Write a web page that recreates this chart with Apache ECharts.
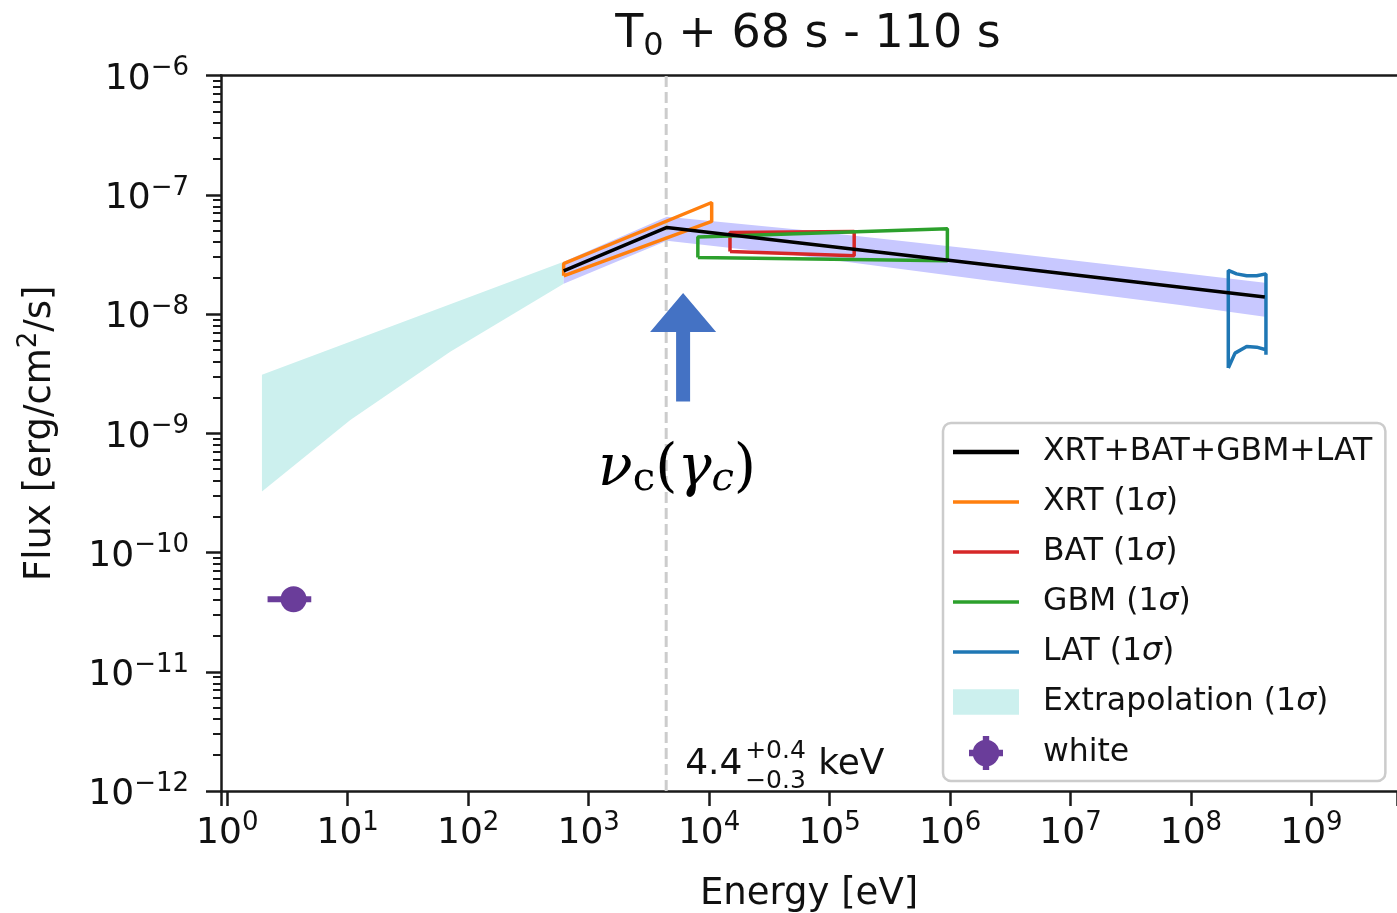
<!DOCTYPE html>
<html>
<head>
<meta charset="utf-8">
<script src="https://cdn.jsdelivr.net/npm/echarts@6/dist/echarts.min.js"></script>
<style>
  html, body { margin: 0; padding: 0; background: #fff; }
  #chart { width: 1397px; height: 913px; }
</style>
</head>
<body>
<div id="chart"></div>
<script>
// axis ranges: energy in eV, flux in erg/cm^2/s
const xMin = 0.887, xMax = 5.13e9;
const yMin = 1e-12, yMax = 1e-6;

// joint XRT+BAT+GBM+LAT fit (broken power law)
const fitE = [620, 4460, 4.1e8];
const fitF = [2.30e-8, 5.32e-8, 1.39e-8];

// 1 sigma band of the joint fit
const fitHiE = [620, 4460, 5.7e4, 2.15e6, 8.1e7, 4.1e8];
const fitHiF = [2.74e-8, 6.53e-8, 5.08e-8, 3.39e-8, 2.22e-8, 1.83e-8];
const fitLoE = [620, 4460, 5.7e4, 2.15e6, 8.1e7, 4.1e8];
const fitLoF = [1.79e-8, 4.11e-8, 3.08e-8, 1.90e-8, 1.19e-8, 9.5e-9];

// extrapolation (1 sigma) down to the optical
const extHiE = [1.94, 620];
const extHiF = [3.09e-9, 2.74e-8];
const extLoE = [1.94, 10.5, 70.9, 620];
const extLoF = [3.24e-10, 1.29e-9, 4.82e-9, 1.79e-8];

// single instrument 1 sigma contours
const xrtE = [620, 620, 1.05e4, 1.05e4, 620];
const xrtF = [2.09e-8, 2.64e-8, 8.61e-8, 5.97e-8, 2.09e-8];
const batE = [1.49e4, 1.49e4, 1.60e5, 1.60e5, 1.49e4];
const batF = [3.34e-8, 4.83e-8, 4.92e-8, 3.08e-8, 3.34e-8];
const gbmE = [8060, 8060, 9.5e5, 9.5e5, 8060];
const gbmF = [2.98e-8, 4.42e-8, 5.19e-8, 2.79e-8, 2.98e-8];
const latE = [2.04e8, 2.04e8, 2.39e8, 2.90e8, 3.51e8, 4.19e8, 4.19e8, 4.19e8, 3.51e8, 2.90e8, 2.32e8, 2.04e8];
const latF = [3.52e-9, 2.32e-8, 2.17e-8, 2.09e-8, 2.09e-8, 2.17e-8, 4.55e-9, 5.01e-9, 5.27e-9, 5.33e-9, 4.70e-9, 3.52e-9];

// UVOT white filter point
const whiteE = 3.55, whiteF = 4.05e-11;
const whiteErrE = [2.16, 4.98];

// cooling break
const breakE = 4400;

// annotation anchors [E, F]
const arrowE = 6080, arrowTopF = 1.50e-8, arrowBottomF = 1.85e-9;
const nuLabelAt = [5420, 4.93e-10];
const breakLabelAt = [6320, 1.65e-12];

const ink = '#111111';
const axisColor = '#1a1a1a';
const font = 'DejaVu Sans';
const lineIcon = 'path://M0,0H66V3.5H0Z';

function pairs(xs, ys) {
  return xs.map(function (x, i) { return [x, ys[i]]; });
}

function powLabel(v) {
  const e = Math.log10(v);
  const n = Math.round(e);
  if (Math.abs(e - n) > 1e-6) return '';
  return '{b|10}{s|' + (n < 0 ? '\u2212' + (-n) : n) + '}';
}

const tickRich = {
  b: { fontSize: 36, lineHeight: 48, fontFamily: font, color: ink },
  s: { fontSize: 26, lineHeight: 26, verticalAlign: 'top', fontFamily: font, color: ink }
};

function bandSeries(name, hiE, hiF, loE, loF, color, z) {
  return {
    name: name,
    type: 'custom',
    z: z,
    silent: true,
    itemStyle: { color: color },
    data: [[hiE[0], hiF[0]]],
    renderItem: function (params, api) {
      const pts = [];
      for (let i = 0; i < hiE.length; i++) pts.push(api.coord([hiE[i], hiF[i]]));
      for (let i = loE.length - 1; i >= 0; i--) pts.push(api.coord([loE[i], loF[i]]));
      return { type: 'polygon', shape: { points: pts }, style: { fill: color } };
    }
  };
}

function contour(name, xs, ys, color, width, z) {
  return {
    name: name,
    type: 'line',
    z: z,
    symbol: 'none',
    silent: true,
    color: color,
    itemStyle: { color: color },
    lineStyle: { color: color, width: width },
    data: pairs(xs, ys)
  };
}

const chart = echarts.init(document.getElementById('chart'));

chart.setOption({
  animation: false,
  backgroundColor: '#ffffff',
  textStyle: { fontFamily: font },
  grid: { left: 221, right: 0, top: 75.5, bottom: 122, outerBoundsMode: 'none' },
  graphic: [{
    type: 'text',
    x: 808,
    y: 7,
    style: {
      text: '{a|T}{sub|0}{a| + 68 s - 110 s}',
      align: 'center',
      verticalAlign: 'top',
      rich: {
        a: { fontSize: 46, lineHeight: 56, fontFamily: font, fill: ink, color: ink },
        sub: { fontSize: 32, lineHeight: 31, verticalAlign: 'bottom', fontFamily: font, fill: ink, color: ink }
      }
    }
  }],
  legend: {
    orient: 'vertical',
    left: 943,
    top: 423,
    padding: [13, 13, 11, 10],
    itemGap: 18,
    itemWidth: 66,
    itemHeight: 34,
    backgroundColor: '#ffffff',
    borderColor: '#cccccc',
    borderWidth: 2.5,
    borderRadius: 8,
    selectedMode: false,
    data: [
      { name: 'XRT+BAT+GBM+LAT', icon: 'path://M0,0H66V4.5H0Z' },
      { name: 'XRT (1σ)', icon: lineIcon },
      { name: 'BAT (1σ)', icon: lineIcon },
      { name: 'GBM (1σ)', icon: lineIcon },
      { name: 'LAT (1σ)', icon: lineIcon },
      { name: 'Extrapolation (1σ)', icon: 'path://M0,0H62V24H0Z' },
      { name: 'white', icon: 'path://M4.5,17A12.5,12.5,0,1,1,29.5,17A12.5,12.5,0,1,1,4.5,17Z M1,14H33V20H1Z M14,1H20V33H14Z' }
    ],
    formatter: function (name) { return name.replace('σ', '{i|σ}'); },
    textStyle: {
      fontSize: 31.5,
      fontFamily: font,
      color: ink,
      padding: [0, 0, 0, 19],
      rich: { i: { fontSize: 31.5, fontStyle: 'italic', fontFamily: font, color: ink } }
    }
  },
  xAxis: [{
    type: 'log',
    logBase: 10,
    min: xMin,
    max: xMax,
    splitNumber: 10,
    axisLine: { show: true, onZero: false, lineStyle: { color: axisColor, width: 2.5 } },
    axisTick: { show: true, length: 15, lineStyle: { color: axisColor, width: 2.5 } },
    splitLine: { show: false },
    axisLabel: { margin: 19, formatter: powLabel, rich: tickRich },
    name: 'Energy [eV]',
    nameLocation: 'middle',
    nameGap: 85,
    nameTextStyle: { fontSize: 37, fontFamily: font, color: ink }
  }, {
    type: 'log',
    logBase: 10,
    min: xMin,
    max: xMax,
    position: 'top',
    axisLine: { show: true, onZero: false, lineStyle: { color: axisColor, width: 2.5 } },
    axisTick: { show: false },
    axisLabel: { show: false },
    splitLine: { show: false }
  }],
  yAxis: {
    type: 'log',
    logBase: 10,
    min: yMin,
    max: yMax,
    splitNumber: 6,
    axisLine: { show: true, onZero: false, lineStyle: { color: axisColor, width: 2.5 } },
    axisTick: { show: true, length: 15, lineStyle: { color: axisColor, width: 2.5 } },
    minorTick: { show: true, splitNumber: 9, length: 8, lineStyle: { color: axisColor, width: 2 } },
    splitLine: { show: false },
    minorSplitLine: { show: false },
    axisLabel: { margin: 32, padding: [8, 0, 0, 0], formatter: powLabel, rich: tickRich },
    name: 'Flux [erg/cm{sup|2}/s]',
    nameLocation: 'middle',
    nameGap: 157,
    nameRotate: 90,
    nameTextStyle: {
      fontSize: 37,
      lineHeight: 48,
      fontFamily: font,
      color: ink,
      rich: { sup: { fontSize: 26, lineHeight: 26, verticalAlign: 'top', fontFamily: font, color: ink } }
    }
  },
  series: [
    bandSeries('Extrapolation (1σ)', extHiE, extHiF, extLoE, extLoF, '#ccf0ee', 1),
    bandSeries('fit band', fitHiE, fitHiF, fitLoE, fitLoF, '#c8c8ff', 1),
    {
      name: 'break',
      type: 'line',
      z: 2,
      symbol: 'none',
      silent: true,
      lineStyle: { color: '#cccccc', width: 3, type: [11, 5] },
      data: [[breakE, yMin], [breakE, yMax]]
    },
    contour('XRT+BAT+GBM+LAT', fitE, fitF, '#000000', 3.5, 4),
    contour('XRT (1σ)', xrtE, xrtF, '#ff7f0e', 3.5, 3),
    contour('BAT (1σ)', batE, batF, '#d62728', 3.5, 3),
    contour('GBM (1σ)', gbmE, gbmF, '#2ca02c', 3.5, 3),
    contour('LAT (1σ)', latE, latF, '#1f77b4', 3.5, 3),
    {
      name: 'white err',
      type: 'line',
      z: 5,
      symbol: 'none',
      silent: true,
      lineStyle: { color: '#6a3d9a', width: 6 },
      data: [[whiteErrE[0], whiteF], [whiteErrE[1], whiteF]]
    },
    {
      name: 'white',
      type: 'scatter',
      z: 6,
      symbol: 'circle',
      symbolSize: 26,
      itemStyle: { color: '#6a3d9a', opacity: 1 },
      data: [[whiteE, whiteF]]
    },
    {
      name: 'annotations',
      type: 'custom',
      z: 10,
      silent: true,
      data: [[arrowE, arrowTopF]],
      renderItem: function (params, api) {
        const top = api.coord([arrowE, arrowTopF]);
        const bot = api.coord([arrowE, arrowBottomF]);
        const hw = 33, hh = 39, sw = 7;
        const nu = api.coord(nuLabelAt);
        const br = api.coord(breakLabelAt);
        const serif = 'DejaVu Serif';
        return {
          type: 'group',
          children: [{
            type: 'polygon',
            shape: {
              points: [
                [top[0], top[1]],
                [top[0] + hw, top[1] + hh],
                [top[0] + sw, top[1] + hh],
                [bot[0] + sw, bot[1]],
                [bot[0] - sw, bot[1]],
                [top[0] - sw, top[1] + hh],
                [top[0] - hw, top[1] + hh]
              ]
            },
            style: { fill: '#4472c4' }
          }, {
            type: 'text',
            x: nu[0],
            y: nu[1],
            style: {
              text: '{i|ν}{s|c}{p|(}{i|γ}{si|c}{p|)}',
              align: 'center',
              verticalAlign: 'middle',
              rich: {
                i: { fontSize: 57, lineHeight: 60, fontStyle: 'italic', fontFamily: serif, fill: '#000' },
                p: { fontSize: 57, lineHeight: 60, fontFamily: serif, fill: '#000' },
                s: { fontSize: 40, lineHeight: 40, verticalAlign: 'bottom', fontFamily: serif, fill: '#000' },
                si: { fontSize: 40, lineHeight: 40, verticalAlign: 'bottom', fontStyle: 'italic', fontFamily: serif, fill: '#000' }
              }
            }
          }, {
            type: 'text',
            x: br[0],
            y: br[1],
            style: { text: '4.4', fontSize: 36, fontFamily: font, fill: ink, align: 'left', verticalAlign: 'middle' }
          }, {
            type: 'text',
            x: br[0] + 60,
            y: br[1] - 14,
            style: { text: '+0.4', fontSize: 25, fontFamily: font, fill: ink, align: 'left', verticalAlign: 'middle' }
          }, {
            type: 'text',
            x: br[0] + 60,
            y: br[1] + 16,
            style: { text: '\u22120.3', fontSize: 25, fontFamily: font, fill: ink, align: 'left', verticalAlign: 'middle' }
          }, {
            type: 'text',
            x: br[0] + 133,
            y: br[1],
            style: { text: 'keV', fontSize: 36, fontFamily: font, fill: ink, align: 'left', verticalAlign: 'middle' }
          }]
        };
      }
    }
  ]
});
</script>
</body>
</html>
